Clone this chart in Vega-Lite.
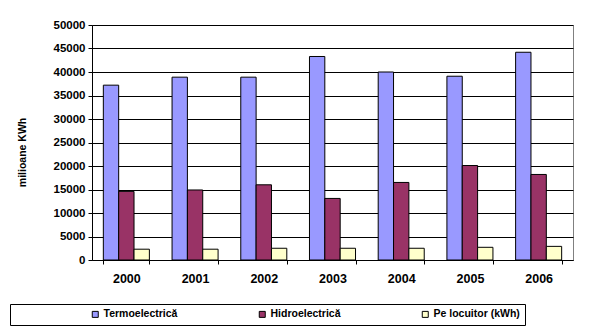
{
  "$schema": "https://vega.github.io/schema/vega-lite/v6.json",
  "width": 481,
  "height": 235,
  "autosize": {"type": "none"},
  "padding": {"left": 92, "top": 25, "right": 17, "bottom": 72},
  "background": "white",
  "config": {
    "font": "Liberation Sans",
    "view": {"stroke": "#808080", "strokeWidth": 1},
    "axis": {"labelColor": "black", "titleColor": "black", "domainColor": "black", "tickColor": "black", "labelFontWeight": "bold", "titleFontWeight": "bold"}
  },
  "data": {
    "values": [
      {"an": "2000", "serie": "Termoelectrică", "valoare": 37200},
      {"an": "2000", "serie": "Hidroelectrică", "valoare": 14600},
      {"an": "2000", "serie": "Pe locuitor (kWh)", "valoare": 2300},
      {"an": "2001", "serie": "Termoelectrică", "valoare": 38900},
      {"an": "2001", "serie": "Hidroelectrică", "valoare": 14900},
      {"an": "2001", "serie": "Pe locuitor (kWh)", "valoare": 2300},
      {"an": "2002", "serie": "Termoelectrică", "valoare": 38900},
      {"an": "2002", "serie": "Hidroelectrică", "valoare": 16000},
      {"an": "2002", "serie": "Pe locuitor (kWh)", "valoare": 2500},
      {"an": "2003", "serie": "Termoelectrică", "valoare": 43300},
      {"an": "2003", "serie": "Hidroelectrică", "valoare": 13100},
      {"an": "2003", "serie": "Pe locuitor (kWh)", "valoare": 2500},
      {"an": "2004", "serie": "Termoelectrică", "valoare": 40000},
      {"an": "2004", "serie": "Hidroelectrică", "valoare": 16500},
      {"an": "2004", "serie": "Pe locuitor (kWh)", "valoare": 2500},
      {"an": "2005", "serie": "Termoelectrică", "valoare": 39100},
      {"an": "2005", "serie": "Hidroelectrică", "valoare": 20100},
      {"an": "2005", "serie": "Pe locuitor (kWh)", "valoare": 2700},
      {"an": "2006", "serie": "Termoelectrică", "valoare": 44200},
      {"an": "2006", "serie": "Hidroelectrică", "valoare": 18200},
      {"an": "2006", "serie": "Pe locuitor (kWh)", "valoare": 2900}
    ]
  },
  "mark": {"type": "bar", "stroke": "black", "strokeWidth": 1},
  "encoding": {
    "x": {
      "field": "an", "type": "nominal",
      "scale": {"paddingInner": 0.33, "paddingOuter": 0.165},
      "axis": {"title": null, "labelAngle": 0, "labelFontSize": 12.5, "labelPadding": 8, "tickBand": "extent", "tickSize": 4, "domainColor": "black"}
    },
    "xOffset": {
      "field": "serie", "type": "nominal",
      "sort": ["Termoelectrică", "Hidroelectrică", "Pe locuitor (kWh)"],
      "scale": {"paddingInner": 0, "paddingOuter": 0}
    },
    "y": {
      "field": "valoare", "type": "quantitative",
      "scale": {"domain": [0, 50000], "nice": false},
      "axis": {
        "title": "milioane KWh", "titleFontSize": 10.5, "titleX": -70, "titleY": 127, "titleAlign": "center", "titleBaseline": "middle", "titleAngle": -90,
        "values": [0, 5000, 10000, 15000, 20000, 25000, 30000, 35000, 40000, 45000, 50000],
        "format": "d", "labelFontSize": 11.5, "labelPadding": 3, "tickSize": 4,
        "grid": true, "gridColor": "black", "gridWidth": 1, "gridOpacity": 1
      }
    },
    "color": {
      "field": "serie", "type": "nominal",
      "sort": ["Termoelectrică", "Hidroelectrică", "Pe locuitor (kWh)"],
      "scale": {"domain": ["Termoelectrică", "Hidroelectrică", "Pe locuitor (kWh)"], "range": ["#9999FF", "#993366", "#FFFFCC"]},
      "legend": {
        "orient": "none", "legendX": -82, "legendY": 279, "direction": "horizontal",
        "title": "\u00a0", "titleOrient": "left", "titlePadding": 75, "titleFontSize": 10.5,
        "strokeColor": "black", "padding": 5, "columnPadding": 79,
        "symbolType": "square", "symbolSize": 36, "symbolStrokeColor": "black", "symbolStrokeWidth": 1, "symbolOpacity": 1,
        "labelFontSize": 10.5, "labelFontWeight": "bold", "labelColor": "black", "labelOffset": 3,
        "labelExpr": "datum.label == 'Pe locuitor (kWh)' ? datum.label + '\u00a0\u00a0\u00a0\u00a0\u00a0\u00a0\u00a0\u00a0\u00a0\u00a0\u00a0\u00a0\u00a0\u00a0\u00a0\u00a0\u00a0\u00a0\u00a0\u00a0\u00a0\u00a0\u00a0' : datum.label"
      }
    }
  }
}
